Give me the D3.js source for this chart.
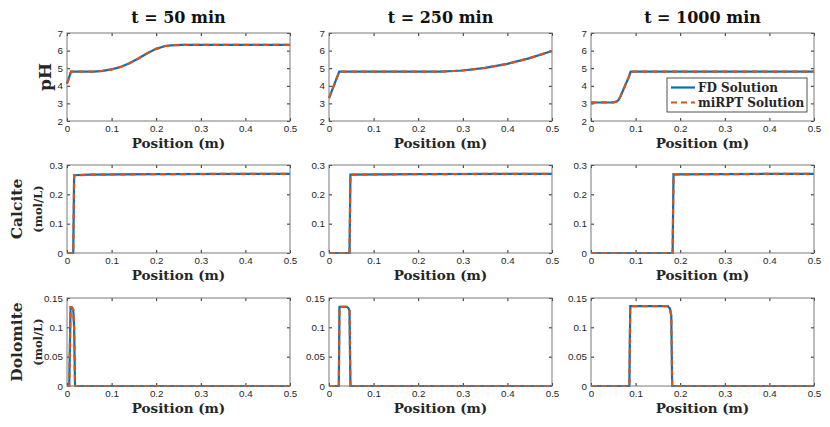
<!DOCTYPE html>
<html>
<head>
<meta charset="utf-8">
<script src="https://cdn.jsdelivr.net/npm/d3@7"></script>
<style>
  body { margin: 0; background: #fff; }
  svg { display: block; }
</style>
</head>
<body>
<svg id="chart" width="830" height="427"></svg>
<script>
// column titles and row labels
const timeTitles = ["t = 50 min", "t = 250 min", "t = 1000 min"];
const rowNames = ["pH", "Calcite", "Dolomite"];
const rowUnits = [null, "(mol/L)", "(mol/L)"];

const xTicks = [0, 0.1, 0.2, 0.3, 0.4, 0.5];
const pHTicks = [2, 3, 4, 5, 6, 7];
const calciteTicks = [0, 0.1, 0.2, 0.3];
const dolomiteTicks = [0, 0.05, 0.1, 0.15];

// pH profiles [position, pH]
const pH50 = [[0,4.12],[0.009,4.8],[0.03,4.8],[0.06,4.81],[0.08,4.85],[0.1,4.93],[0.12,5.07],
  [0.14,5.28],[0.16,5.55],[0.18,5.85],[0.2,6.1],[0.22,6.26],[0.24,6.31],[0.26,6.32],[0.5,6.32]];
const pH250 = [[0,3.3],[0.023,4.8],[0.1,4.8],[0.2,4.8],[0.25,4.81],[0.28,4.84],[0.3,4.87],
  [0.35,5.02],[0.4,5.25],[0.45,5.57],[0.5,5.98]];
const pH1000 = [[0,3.05],[0.05,3.06],[0.057,3.1],[0.062,3.2],[0.067,3.45],[0.072,3.75],
  [0.078,4.1],[0.084,4.45],[0.089,4.8],[0.5,4.8]];

// calcite profiles [position, mol/L]
const calcite50 = [[0,0],[0.014,0],[0.016,0.265],[0.05,0.267],[0.2,0.269],[0.5,0.27]];
const calcite250 = [[0,0],[0.046,0],[0.048,0.267],[0.2,0.269],[0.5,0.27]];
const calcite1000 = [[0,0],[0.183,0],[0.185,0.268],[0.3,0.269],[0.5,0.27]];

// dolomite profiles [position, mol/L]
const dolomite50 = [[0,0],[0.005,0],[0.008,0.134],[0.011,0.134],[0.014,0.13],[0.016,0.1],[0.018,0],[0.5,0]];
const dolomite250 = [[0,0],[0.022,0],[0.0235,0.135],[0.04,0.135],[0.044,0.132],[0.046,0.128],[0.048,0],[0.5,0]];
const dolomite1000 = [[0,0],[0.086,0],[0.088,0.136],[0.172,0.136],[0.177,0.132],[0.18,0.12],[0.182,0],[0.5,0]];

const rows = [
  { ticks: pHTicks, domain: [2, 7], data: [pH50, pH250, pH1000] },
  { ticks: calciteTicks, domain: [0, 0.3], data: [calcite50, calcite250, calcite1000] },
  { ticks: dolomiteTicks, domain: [0, 0.15], data: [dolomite50, dolomite250, dolomite1000] }
];

const colLeft = [67, 329, 591];
const rowTop = [33, 165, 298];
const pw = 223, ph = 88;

const blue = "#0072BD", orange = "#D95319";
const serif = "'DejaVu Serif', serif";
const sans = "'Liberation Sans', Arial, sans-serif";
const fmt = d => String(+d.toFixed(3));

const svg = d3.select("#chart");
svg.append("rect").attr("width", 830).attr("height", 427).attr("fill", "#fff");

rows.forEach((row, r) => {
  row.data.forEach((series, c) => {
    const g = svg.append("g").attr("transform", `translate(${colLeft[c]},${rowTop[r]})`);
    const x = d3.scaleLinear().domain([0, 0.5]).range([0, pw]);
    const y = d3.scaleLinear().domain(row.domain).range([ph, 0]);

    // 坐标轴：刻度朝内，四边都有
    const styleAxis = sel => {
      sel.select(".domain").remove();
      sel.selectAll("line").attr("stroke", "#262626");
      sel.selectAll("text").attr("fill", "#262626").style("font-family", sans).style("font-size", "9.8px");
    };
    g.append("g").attr("transform", `translate(0,${ph})`)
      .call(d3.axisBottom(x).tickValues(xTicks).tickSize(-3).tickPadding(4).tickFormat(fmt))
      .call(styleAxis);
    g.append("g")
      .call(d3.axisTop(x).tickValues(xTicks).tickSize(-3).tickFormat(""))
      .call(styleAxis);
    g.append("g")
      .call(d3.axisLeft(y).tickValues(row.ticks).tickSize(-3).tickPadding(4).tickFormat(fmt))
      .call(styleAxis);
    g.append("g").attr("transform", `translate(${pw},0)`)
      .call(d3.axisRight(y).tickValues(row.ticks).tickSize(-3).tickFormat(""))
      .call(styleAxis);

    const line = d3.line().x(d => x(d[0])).y(d => y(d[1]));
    g.append("path").datum(series)
      .attr("d", line).attr("fill", "none")
      .attr("stroke", blue).attr("stroke-width", 2.2);
    g.append("path").datum(series)
      .attr("d", line).attr("fill", "none")
      .attr("stroke", orange).attr("stroke-width", 2.2)
      .attr("stroke-dasharray", "6,4");

    g.append("rect").attr("width", pw).attr("height", ph)
      .attr("fill", "none").attr("stroke", "#7a7a7a").attr("stroke-width", 1);

    g.append("text")
      .attr("x", pw / 2).attr("y", ph + 27)
      .attr("text-anchor", "middle")
      .style("font-family", serif).style("font-weight", "bold").style("font-size", "13.5px")
      .attr("fill", "#262626")
      .text("Position (m)");

    if (r === 0) {
      g.append("text")
        .attr("x", pw / 2).attr("y", -10)
        .attr("text-anchor", "middle")
        .style("font-family", serif).style("font-weight", "bold").style("font-size", "16px")
        .attr("fill", "#111")
        .text(timeTitles[c]);
    }
  });

  // y 轴标题
  const cy = rowTop[r] + ph / 2;
  if (rowUnits[r]) {
    svg.append("text")
      .attr("transform", `translate(22,${cy}) rotate(-90)`)
      .attr("text-anchor", "middle")
      .style("font-family", serif).style("font-weight", "bold").style("font-size", "15.5px")
      .attr("fill", "#262626")
      .text(rowNames[r]);
    svg.append("text")
      .attr("transform", `translate(42,${cy}) rotate(-90)`)
      .attr("text-anchor", "middle")
      .style("font-family", serif).style("font-weight", "bold").style("font-size", "11.5px")
      .attr("fill", "#262626")
      .text(rowUnits[r]);
  } else {
    svg.append("text")
      .attr("transform", `translate(51,${cy}) rotate(-90)`)
      .attr("text-anchor", "middle")
      .style("font-family", serif).style("font-weight", "bold").style("font-size", "17px")
      .attr("fill", "#262626")
      .text(rowNames[r]);
  }
});

// 图例
const legendItems = [
  { label: "FD Solution", color: blue, dash: null },
  { label: "miRPT Solution", color: orange, dash: "6,4" }
];
const lg = svg.append("g").attr("transform", "translate(667,78)");
lg.append("rect").attr("width", 140).attr("height", 34)
  .attr("fill", "#fff").attr("stroke", "#262626").attr("stroke-width", 0.8);
legendItems.forEach((d, i) => {
  const yy = 9.5 + i * 15;
  lg.append("line").attr("x1", 4).attr("x2", 28).attr("y1", yy).attr("y2", yy)
    .attr("stroke", d.color).attr("stroke-width", 2.2)
    .attr("stroke-dasharray", d.dash);
  lg.append("text").attr("x", 31).attr("y", yy + 4)
    .style("font-family", serif).style("font-weight", "bold").style("font-size", "12px")
    .attr("fill", "#262626")
    .text(d.label);
});
</script>
</body>
</html>
